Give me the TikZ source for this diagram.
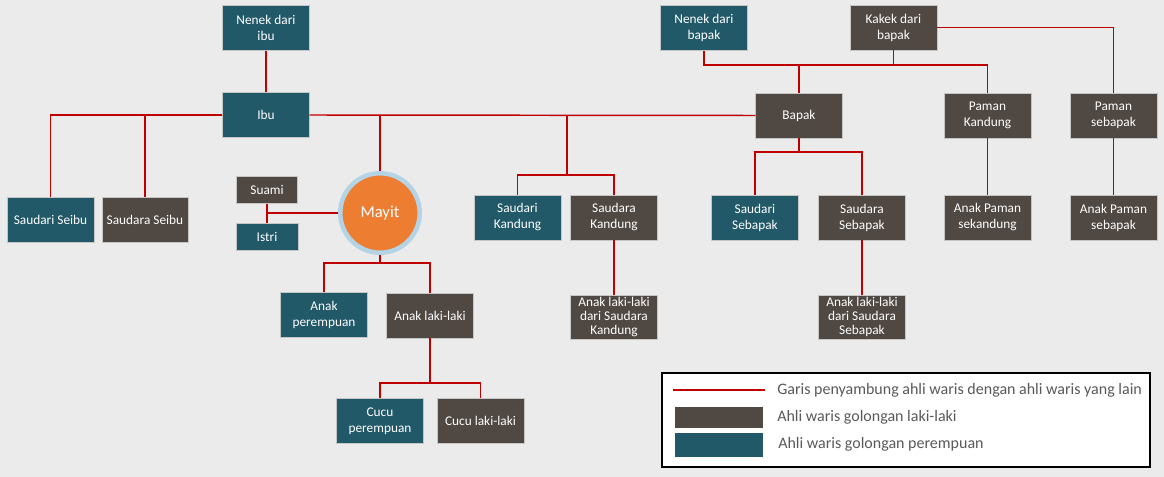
\documentclass[tikz,border=0pt]{standalone}
\usepackage{fontspec}
\setmainfont{Carlito}
\definecolor{tealbox}{RGB}{33,89,104}
\definecolor{brownbox}{RGB}{80,72,66}
\definecolor{bgcol}{RGB}{235,235,235}
\definecolor{redline}{RGB}{192,0,0}
\definecolor{orangec}{RGB}{237,125,49}
\definecolor{ringc}{RGB}{180,212,230}
\definecolor{legtext}{RGB}{89,89,89}
\begin{document}
\begin{tikzpicture}[x=0.75pt,y=-0.75pt,
  box/.style={rectangle, inner sep=0pt, align=center, text=white,
    font=\fontsize{10}{12}\selectfont, draw=gray!45, line width=0.4pt,
    minimum width=65pt, minimum height=33.75pt},
  fem/.style={box, fill=tealbox},
  mal/.style={box, fill=brownbox},
  smallbox/.style={minimum width=45.5pt, minimum height=20.25pt},
  tri/.style={font=\fontsize{10}{10.8}\selectfont, minimum height=33pt},
  mayitstyle/.style={circle, fill=orangec, draw=ringc, line width=3.4pt,
    minimum size=59.6pt, inner sep=0pt, text=white, font=\fontsize{12.5}{14}\selectfont},
  conn/.style={draw=redline, line width=1.1pt},
  legtxt/.style={anchor=west, inner sep=0pt, text=legtext, font=\fontsize{12}{14}\selectfont}]
\fill[bgcol] (0,0) rectangle (1164,477);
\useasboundingbox (0,0) rectangle (1164,477);

% nodes
\node[fem] (nenekibu) at (266,28) {Nenek dari\\ibu};
\node[fem] (ibu) at (266,115) {Ibu};
\node[fem] (sdriseibu) at (50.5,220) {Saudari Seibu};
\node[mal, minimum width=64.5pt] (sdraseibu) at (145,220) {Saudara Seibu};
\node[mal, smallbox] (suami) at (267,190) {Suami};
\node[fem, smallbox, minimum width=46.5pt] (istri) at (267,237) {Istri};
\node[mayitstyle] (mayit) at (380,213) {Mayit};
\node[fem] (nenekbapak) at (704,28) {Nenek dari\\bapak};
\node[mal] (kakek) at (893.5,27.5) {Kakek dari\\bapak};
\node[mal] (bapak) at (799,115.5) {Bapak};
\node[mal] (pamank) at (987.5,115.5) {Paman\\Kandung};
\node[mal] (pamans) at (1113.5,115.5) {Paman\\sebapak};
\node[fem] (sdrik) at (517.5,217.5) {Saudari\\Kandung};
\node[mal] (sdrak) at (614,217.5) {Saudara\\Kandung};
\node[fem] (sdris) at (755,217.5) {Saudari\\Sebapak};
\node[mal] (sdras) at (862,217.5) {Saudara\\Sebapak};
\node[mal] (anakpk) at (987.5,217.5) {Anak Paman\\sekandung};
\node[mal] (anakps) at (1113.5,217.5) {Anak Paman\\sebapak};
\node[mal, tri] (anaksk) at (614,317) {Anak laki-laki\\dari Saudara\\Kandung};
\node[mal, tri] (anakss) at (862,317) {Anak laki-laki\\dari Saudara\\Sebapak};
\node[fem] (anakp) at (324,315) {Anak\\perempuan};
\node[mal] (anakl) at (430,315.5) {Anak laki-laki};
\node[fem] (cucup) at (380,421) {Cucu\\perempuan};
\node[mal] (cucul) at (480.5,421) {Cucu laki-laki};

% junction points
\coordinate (jk) at (567,175);
\coordinate (jm) at (380,263);
\coordinate (jc) at (430,383);
\coordinate (jb) at (799,65);
\coordinate (js) at (799,152);

% connectors
\draw[conn] (nenekibu) -- (ibu);
\draw[conn] (ibu.west) -- (sdriseibu.north |- ibu.west) -- (sdriseibu.north);
\draw[conn] (sdraseibu.north |- ibu.west) -- (sdraseibu.north);
\draw[conn] (ibu.east) -- (bapak.west);
\draw[conn] (mayit.north |- ibu.east) -- (mayit.north);
\draw[conn] (jk |- bapak.west) -- (jk);
\draw[conn] (sdrik.north) |- (jk) -| (sdrak.north);
\draw[conn] (suami) -- (istri);
\draw[conn] (suami.south |- mayit.west) -- (mayit.west);
\draw[conn] (mayit.south) -- (jm);
\draw[conn] (anakp.north) |- (jm) -| (anakl.north);
\draw[conn] (anakl.south) -- (jc);
\draw[conn] (cucup.north) |- (jc) -| (cucul.north);
\draw[conn] (nenekbapak.south) |- (jb) -| (pamank.north);
\draw[conn] (jb) -- (bapak.north);
\draw[conn] (kakek.south) -- (kakek.south |- jb);
\draw[conn] (kakek.east) -| (pamans.north);
\draw[conn] (bapak.south) -- (js);
\draw[conn] (sdris.north) |- (js) -| (sdras.north);
\draw[conn] (pamank) -- (anakpk);
\draw[conn] (pamans) -- (anakps);
\draw[conn] (sdrak) -- (anaksk);
\draw[conn] (sdras) -- (anakss);

% legend
\node[draw=black, line width=1.5pt, fill=white, minimum width=366pt,
  minimum height=70.5pt, inner sep=0pt] (legend) at (906,420) {};
\coordinate (lr1) at (673,390);
\coordinate (lr2) at (765,390);
\draw[conn] (lr1) -- (lr2);
\node[fill=brownbox, minimum width=66pt, minimum height=15.75pt, inner sep=0pt] (lgm) at (719,417.5) {};
\node[fill=tealbox, minimum width=66pt, minimum height=18pt, inner sep=0pt] (lgf) at (719,445) {};
\node[legtxt] (lt1) at (777,390) {Garis penyambung ahli waris dengan ahli waris yang lain};
\node[legtxt] (lt2) at (777,417) {Ahli waris golongan laki-laki};
\node[legtxt] (lt3) at (778,444) {Ahli waris golongan perempuan};
\end{tikzpicture}
\end{document}
